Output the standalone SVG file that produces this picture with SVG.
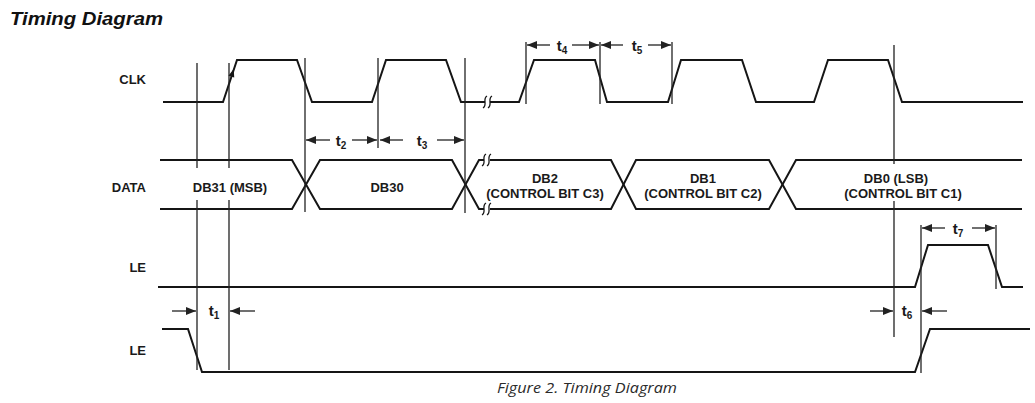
<svg xmlns="http://www.w3.org/2000/svg" width="1035" height="403" viewBox="0 0 1035 403">
<style>
.sig{fill:none;stroke:#151515;stroke-width:2;stroke-linejoin:miter}
.brk{fill:none;stroke:#151515;stroke-width:1.3}
.gap{stroke:#fff;stroke-width:5}
.ref{stroke:#222;stroke-width:1.3;fill:none}
.dim{stroke:#222;stroke-width:1.3;fill:none;marker-end:url(#ah)}
.lbl{font-family:"Liberation Sans",Arial,sans-serif;font-weight:bold;font-size:13px;fill:#1a1a1a}
.mid{text-anchor:middle}
.end{text-anchor:end}
.t{font-family:"Liberation Sans",Arial,sans-serif;font-weight:bold;font-size:15px;fill:#1a1a1a;text-anchor:middle}
.sub{font-size:10px}
</style>
<defs>
<marker id="ah" markerUnits="userSpaceOnUse" markerWidth="10" markerHeight="8" refX="10" refY="4" orient="auto">
<path d="M0,0 L10,4 L0,8 z" fill="#222"/>
</marker>
</defs>
<g id="title">
<text x="10" y="25" font-family="Liberation Sans, Arial, sans-serif" font-weight="bold" font-style="italic" font-size="18" fill="#111" textLength="153" lengthAdjust="spacingAndGlyphs">Timing Diagram</text>
</g>
<g id="signal-labels">
<text class="lbl end" x="146" y="84">CLK</text>
<text class="lbl end" x="146" y="192">DATA</text>
<text class="lbl end" x="146" y="272">LE</text>
<text class="lbl end" x="146" y="355">LE</text>
</g>
<g id="clk">
<path class="sig" d="M163,102 H223 L237,60 H297 L312,102 H372 L386,60 H446 L461,102 H519 L534,60 H595 L607,102 H668 L681,60 H742 L756,102 H814 L828,60 H888 L902,102 H1023"/>
<line class="gap" x1="485" y1="102" x2="490" y2="102"/>
<path class="brk" d="M487,96 C482,99 488,105 483,108 M492,96 C487,99 493,105 488,108"/>
<polygon points="233.7,69 234.2,77.6 228.4,75.7" fill="#151515"/>
</g>
<g id="data">
<path class="sig" d="M160,160 H292 L320,209 H452 L479,160 H611 L636,209 H769 L796,160 H1022"/>
<path class="sig" d="M160,209 H292 L320,160 H452 L479,209 H611 L636,160 H769 L796,209 H1022"/>
<line class="gap" x1="484" y1="160" x2="490" y2="160"/>
<line class="gap" x1="484" y1="209" x2="490" y2="209"/>
<path class="brk" d="M486,154 C481,157 487,163 482,166 M491,154 C486,157 492,163 487,166"/>
<path class="brk" d="M486,203 C481,206 487,212 482,215 M491,203 C486,206 492,212 487,215"/>
<text class="lbl mid" x="230" y="192">DB31 (MSB)</text>
<text class="lbl mid" x="387" y="192">DB30</text>
<text class="lbl mid" x="545" y="183">DB2</text>
<text class="lbl mid" x="545" y="198">(CONTROL BIT C3)</text>
<text class="lbl mid" x="703" y="183">DB1</text>
<text class="lbl mid" x="703" y="198">(CONTROL BIT C2)</text>
<text class="lbl mid" x="896" y="183">DB0 (LSB)</text>
<text class="lbl mid" x="903" y="198">(CONTROL BIT C1)</text>
</g>
<g id="le1">
<path class="sig" d="M158,287 H915 L928,245 H988 L1002,287 H1023"/>
</g>
<g id="le2">
<path class="sig" d="M162,329 H188 L202,372 H915 L930,329 H1030"/>
</g>
<g id="connectors">
<g id="reference-lines">
<path class="ref" d="M197,63 V168 M197,200 V370"/>
<path class="ref" d="M229,63 V168 M229,200 V370"/>
<path class="ref" d="M305,58 V212"/>
<path class="ref" d="M378,58 V148"/>
<path class="ref" d="M465,58 V213"/>
<path class="ref" d="M526,42 V104"/>
<path class="ref" d="M600,42 V104"/>
<path class="ref" d="M672,42 V104"/>
<path class="ref" d="M894,45 V164 M894,201 V337"/>
<path class="ref" d="M921,225 V373"/>
<path class="ref" d="M996,225 V289"/>
</g>
<g id="dimensions">
<path class="dim" d="M330,140 H306"/>
<path class="dim" d="M352,140 H377"/>
<path class="dim" d="M403,140 H380"/>
<path class="dim" d="M437,140 H464"/>
<path class="dim" d="M550,45 H527"/>
<path class="dim" d="M572,45 H599"/>
<path class="dim" d="M623,45 H601"/>
<path class="dim" d="M648,45 H671"/>
<path class="dim" d="M945,228 H922"/>
<path class="dim" d="M972,228 H995"/>
<path class="dim" d="M870,311 H893"/>
<path class="dim" d="M947,311 H922"/>
<path class="dim" d="M172,311 H196"/>
<path class="dim" d="M255,311 H230"/>
</g>
</g>
<g id="timing-labels">
<text class="t" x="341" y="146">t<tspan class="sub" dy="3">2</tspan></text>
<text class="t" x="422" y="146">t<tspan class="sub" dy="3">3</tspan></text>
<text class="t" x="562" y="51">t<tspan class="sub" dy="3">4</tspan></text>
<text class="t" x="637" y="51">t<tspan class="sub" dy="3">5</tspan></text>
<text class="t" x="958" y="234">t<tspan class="sub" dy="3">7</tspan></text>
<text class="t" x="907" y="316">t<tspan class="sub" dy="3">6</tspan></text>
<text class="t" x="214" y="316">t<tspan class="sub" dy="3">1</tspan></text>
</g>
<g id="caption">
<text x="587" y="393" text-anchor="middle" font-family="Open Sans, Liberation Sans, sans-serif" font-style="italic" font-size="14" fill="#2a2a2a" textLength="180" lengthAdjust="spacingAndGlyphs">Figure 2. Timing Diagram</text>
</g>
</svg>
